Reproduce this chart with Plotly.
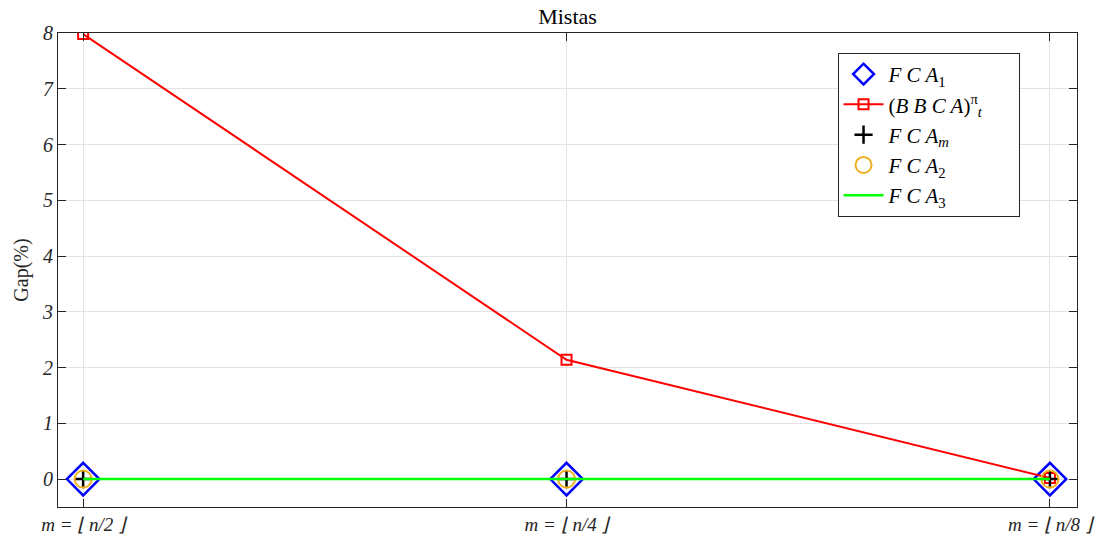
import plotly.graph_objects as go

categories = ["m = ⌊ n/2 ⌋", "m = ⌊ n/4 ⌋", "m = ⌊ n/8 ⌋"]
x_idx = [0, 1, 2]
fca1 = [0, 0, 0]
bbca = [7.98, 2.14, 0.02]
fcam = [0, 0, 0]
fca2 = [0, 0, 0]
fca3 = [0, 0, 0]
y_ticks = [0, 1, 2, 3, 4, 5, 6, 7, 8]

ts = " "
pad = "\u00a0" * 6
fig = go.Figure()
fig.add_trace(go.Scatter(x=x_idx, y=fca1, mode="markers", name=f"<i>F{ts}C{ts}A</i><sub>1</sub>",
                         marker=dict(symbol="diamond-open", size=25, color="#0000ff", line=dict(width=2.5))))
fig.add_trace(go.Scatter(x=x_idx, y=bbca, mode="lines+markers",
                         name=f"(<i>B{ts}B{ts}C{ts}A</i>)<sup>π</sup><sub><i>t</i></sub>{pad}",
                         line=dict(color="#ff0000", width=2),
                         marker=dict(symbol="square-open", size=10, color="#ff0000", line=dict(width=2))))
fig.add_trace(go.Scatter(x=x_idx, y=fcam, mode="markers", name=f"<i>F{ts}C{ts}A</i><sub><i>m</i></sub>",
                         marker=dict(symbol="cross-thin-open", size=13, color="#000000", line=dict(width=2.5, color="#000000"))))
fig.add_trace(go.Scatter(x=x_idx, y=fca2, mode="markers", name=f"<i>F{ts}C{ts}A</i><sub>2</sub>",
                         marker=dict(symbol="circle-open", size=17, color="#EDB120", line=dict(width=2))))
fig.add_trace(go.Scatter(x=x_idx, y=fca3, mode="lines", name=f"<i>F{ts}C{ts}A</i><sub>3</sub>",
                         line=dict(color="#00ff00", width=2.5)))

fig.update_layout(
    width=1097, height=543,
    margin=dict(l=58, r=20, t=33, b=36),
    paper_bgcolor="white", plot_bgcolor="white",
    font=dict(family="Liberation Serif", size=17, color="#262626"),
    title=dict(text="Mistas", x=(58 + 1077) / 2 / 1097, xanchor="center", y=0.985, yanchor="top",
               font=dict(family="Liberation Serif", size=22, color="#000000")),
    showlegend=True,
    legend=dict(x=0.765, y=0.958, xanchor="left", yanchor="top",
                bgcolor="white", bordercolor="#262626", borderwidth=1,
                font=dict(family="Liberation Serif", size=21, color="#000000"),
                tracegroupgap=0, itemwidth=40),
)
fig.update_xaxes(
    range=[-0.052, 2.056], tickmode="array", tickvals=x_idx, ticktext=categories,
    automargin=False,
    showgrid=True, gridcolor="#e3e3e3", gridwidth=1, zeroline=False,
    showline=True, linecolor="#262626", linewidth=1, mirror="ticks",
    ticks="inside", ticklen=8, tickcolor="#262626",
    tickfont=dict(family="Liberation Serif", size=19, style="italic", color="#262626"),
)
fig.update_yaxes(
    range=[-0.5, 8], tickmode="array", tickvals=y_ticks,
    automargin=False,
    showgrid=True, gridcolor="#e3e3e3", gridwidth=1, zeroline=False,
    showline=True, linecolor="#262626", linewidth=1, mirror="ticks",
    ticks="inside", ticklen=8, tickcolor="#262626",
    tickfont=dict(family="Liberation Serif", size=20, style="italic", color="#262626"),
    title=dict(text="Gap(%)", font=dict(family="Liberation Serif", size=20, color="#262626"), standoff=8),
)

fig.write_html("out.html", config={"displayModeBar": False},
               post_script="document.body.style.margin='0';")
